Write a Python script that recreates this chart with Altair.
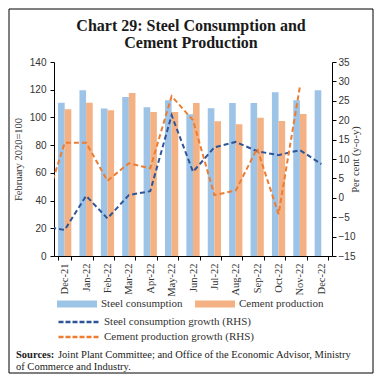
import altair as alt
import pandas as pd

months = ["Dec-21", "Jan-22", "Feb-22", "Mar-22", "Apr-22", "May-22", "Jun-22",
          "Jul-22", "Aug-22", "Sep-22", "Oct-22", "Nov-22", "Dec-22"]
steel_index = [110.6, 119.6, 106.4, 114.8, 107.3, 112.4, 102.3, 106.6, 110.5, 110.5, 118.2, 112.4, 119.6]
cement_index = [105.9, 110.6, 105.2, 117.7, 104.0, 104.0, 110.5, 97.3, 95.1, 99.7, 97.5, 102.5, None]

# growth series start one month earlier (Nov-21), which is clipped at the left edge of the plot
line_months = ["Nov-21"] + months
line_pos = list(range(-1, 13))
steel_growth = [-7.3, -8.3, 0.5, -5.3, 0.7, 1.7, 21.3, 6.7, 13.0, 14.4, 12.0, 11.0, 12.3, 8.7]
cement_growth = [-3.2, 14.2, 14.2, 4.4, 8.9, 7.6, 26.2, 20.0, 0.7, 1.9, 12.7, -4.2, 28.7, None]

bar_names = ["Steel consumption", "Cement production"]
line_names = ["Steel consumption growth (RHS)", "Cement production growth (RHS)"]
title_lines = ["Chart 29: Steel Consumption and", "Cement Production"]
left_title = "February 2020=100"
right_title = "Per cent (y-o-y)"
src_bold = "Sources:"
src_line1 = "Joint Plant Committee; and Office of the Economic Advisor, Ministry"
src_line2 = "of Commerce and Industry."

bar_df = pd.DataFrame({
    "month": months * 2,
    "series": [bar_names[0]] * len(months) + [bar_names[1]] * len(months),
    "value": steel_index + cement_index,
}).dropna()

line_df = pd.DataFrame({
    "pos": line_pos * 2,
    "month": line_months * 2,
    "series": [line_names[0]] * len(line_pos) + [line_names[1]] * len(line_pos),
    "value": steel_growth + cement_growth,
}).dropna()

SERIF = "Liberation Serif"
SANS = "Liberation Sans"
W, H = 278, 194

bars = alt.Chart(bar_df).mark_bar().encode(
    x=alt.X("month:N", sort=months,
            scale=alt.Scale(domain=months, paddingInner=0.38, paddingOuter=0.19),
            axis=alt.Axis(title=None, orient="bottom", labelAngle=270, labelAlign="right",
                          labelBaseline="middle", labelFont=SERIF, labelFontSize=10.5, labelPadding=3,
                          tickBand="extent", tickSize=4, labelColor="#333")),
    xOffset=alt.XOffset("series:N", scale=alt.Scale(domain=bar_names, paddingInner=0, paddingOuter=0)),
    y=alt.Y("value:Q", scale=alt.Scale(domain=[0, 140], nice=False),
            axis=alt.Axis(title=left_title, orient="left", values=list(range(0, 141, 20)), tickSize=4,
                          labelFont=SANS, labelFontSize=10, labelPadding=4,
                          titleFont=SERIF, titleFontSize=10.5, titleFontWeight="normal",
                          titlePadding=6, titleColor="#333")),
    fill=alt.Fill("series:N", scale=alt.Scale(domain=bar_names, range=["#9DC3E6", "#F4B183"]),
                  legend=alt.Legend(orient="none", legendX=3, legendY=236, direction="horizontal",
                                    title=None, symbolType="M-1,-0.17H1V0.17H-1Z", symbolSize=1600,
                                    symbolStrokeWidth=0, clipHeight=12, labelFont=SERIF,
                                    labelFontSize=11, labelColor="#333", columnPadding=12,
                                    labelOffset=4, padding=0)),
)

lines = alt.Chart(line_df).mark_line(strokeDash=[5, 3], strokeWidth=2, clip=True).encode(
    x=alt.X("pos:Q", scale=alt.Scale(domain=[-0.5, 12.5], nice=False, zero=False), axis=None),
    y=alt.Y("value:Q", scale=alt.Scale(domain=[-15, 35], nice=False, zero=False),
            axis=alt.Axis(title=right_title, orient="right", values=list(range(-15, 36, 5)), tickSize=4,
                          labelFont=SANS, labelFontSize=10, labelPadding=2,
                          titleFont=SERIF, titleFontSize=10.5, titleFontWeight="normal",
                          titleAngle=270, titlePadding=6, titleColor="#333")),
    stroke=alt.Stroke("series:N", scale=alt.Scale(domain=line_names, range=["#2F5597", "#ED7D31"]),
                      legend=alt.Legend(orient="none", legendX=3, legendY=254, direction="vertical",
                                        title=None, symbolType="stroke", symbolSize=1600,
                                        symbolStrokeWidth=2.5, symbolDash=[5, 2], clipHeight=12,
                                        rowPadding=3, labelFont=SERIF, labelFontSize=11,
                                        labelColor="#333", labelOffset=4, padding=0)),
    detail="series:N",
)

one = pd.DataFrame({"t": [0]})
border = alt.Chart(one).mark_rect(fillOpacity=0, stroke="#000", strokeWidth=1).encode(
    x=alt.value(-45), x2=alt.value(319), y=alt.value(-53), y2=alt.value(311))

def label(text, x, y, size=10.5, weight="normal", align="left"):
    return alt.Chart(pd.DataFrame({"t": [text]})).mark_text(
        align=align, baseline="alphabetic", font=SERIF, fontSize=size, fontWeight=weight, color="#1a1a1a"
    ).encode(x=alt.value(x), y=alt.value(y), text="t:N")

t1 = label(title_lines[0], 137, -31, size=16, weight="bold", align="center")
t2 = label(title_lines[1], 137, -14, size=16, weight="bold", align="center")
src_a = label(src_bold, -38, 295.5, weight="bold")
src_b = label(src_line1, 4, 295.5)
src_c = label(src_line2, -38, 307.5)

chart = alt.layer(bars, lines, border, t1, t2, src_a, src_b, src_c).resolve_scale(
    x="independent", y="independent", fill="independent", stroke="independent"
).properties(
    width=W, height=H,
    autosize=alt.AutoSizeParams(type="none"),
    padding={"left": 46, "top": 54, "right": 42, "bottom": 119},
).configure_view(stroke=None).configure_axis(
    grid=False, domainColor="#000", tickColor="#000", labelColor="#333"
)

chart.save("out.html", embed_options={"renderer": "svg", "actions": False})
